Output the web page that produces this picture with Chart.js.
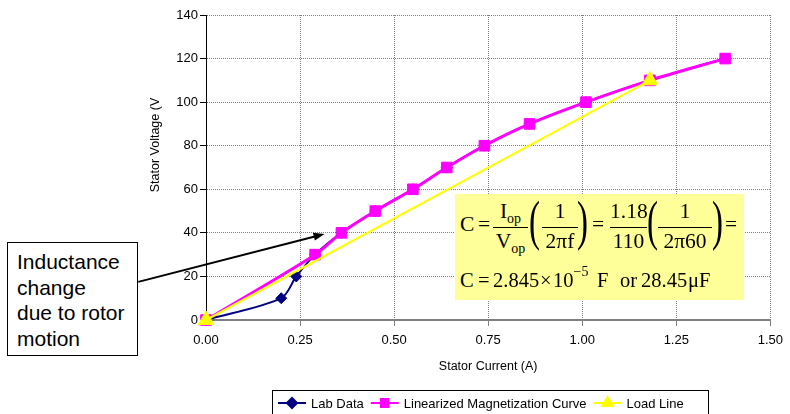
<!DOCTYPE html>
<html>
<head>
<meta charset="utf-8">
<script src="https://cdn.jsdelivr.net/npm/chart.js@4.4.1/dist/chart.umd.min.js"></script>
<style>
  html, body { margin: 0; padding: 0; background: #fff; }
  #wrap { position: relative; width: 790px; height: 414px; overflow: hidden; }
  #chart { position: absolute; left: 0; top: 0; }
  .note {
    position: absolute; left: 7px; top: 242px; width: 131px; height: 114px;
    box-sizing: border-box; border: 1px solid #000; background: #fff;
    font: 21px "Liberation Sans", Arial, sans-serif; line-height: 25.5px;
    padding: 6px 0 0 9px; color: #000; white-space: nowrap;
  }
  /* formula box, Times-like serif, pieces placed one by one */
  .eq {
    position: absolute; left: 455px; top: 194px; width: 289px; height: 106px;
    background: #ffff99; font-family: "Liberation Serif", "Times New Roman", serif;
    font-size: 21.5px; line-height: 1; color: #000;
  }
  .eq div { position: absolute; white-space: nowrap; }
  .eq .c { text-align: center; }
  .eq .bar { height: 1px; background: #000; top: 33px; }
  .eq .par { font-size: 55px; transform: scaleX(0.6); transform-origin: 0 0; top: -1px; }
  .eq .r2 { font-size: 20.5px; top: 76px; }
  .eq sub { font-size: 14px; vertical-align: -5px; line-height: 0; }
  .eq sup { font-size: 14px; vertical-align: 11px; line-height: 0; }
</style>
</head>
<body>
<div id="wrap">
  <canvas id="chart" width="790" height="414"></canvas>
  <div class="note">Inductance<br>change<br>due to rotor<br>motion</div>
  <div class="eq">
    <div style="left:5px;top:20px">C</div>
    <div style="left:23px;top:20px">=</div>
    <div class="c" style="left:38px;width:35px;top:7px">I<sub>op</sub></div>
    <div class="bar" style="left:38px;width:35px"></div>
    <div class="c" style="left:38px;width:35px;top:37px">V<sub>op</sub></div>
    <div class="par" style="left:74px">(</div>
    <div class="c" style="left:87px;width:36px;top:7px">1</div>
    <div class="bar" style="left:87px;width:36px"></div>
    <div class="c" style="left:87px;width:36px;top:37px">2πf</div>
    <div class="par" style="left:122px">)</div>
    <div style="left:137px;top:20px">=</div>
    <div class="c" style="left:155px;width:37px;top:7px">1.18</div>
    <div class="bar" style="left:155px;width:37px"></div>
    <div class="c" style="left:155px;width:37px;top:37px">110</div>
    <div class="par" style="left:192px">(</div>
    <div class="c" style="left:203px;width:54px;top:7px">1</div>
    <div class="bar" style="left:203px;width:54px"></div>
    <div class="c" style="left:203px;width:54px;top:37px">2π60</div>
    <div class="par" style="left:257px">)</div>
    <div style="left:270px;top:20px">=</div>

    <div class="r2" style="left:5px">C</div>
    <div class="r2" style="left:23px">=</div>
    <div class="r2" style="left:38px">2.845</div>
    <div class="r2" style="left:85px">×</div>
    <div class="r2" style="left:98px">10<sup>−5</sup></div>
    <div class="r2" style="left:142px">F</div>
    <div class="r2" style="left:165px">or</div>
    <div class="r2" style="left:186px">28.45</div>
    <div class="r2" style="left:233px">μF</div>
  </div>
</div>
<script>
  // values
  const labCurrent = [0, 0.20, 0.24, 0.29, 0.36, 0.45, 0.55, 0.64, 0.74, 0.86, 1.01, 1.18, 1.38];
  const labVoltage = [0, 10, 20, 30, 40, 50, 60, 70, 80, 90, 100, 110, 120];
  const magCurrent = [0, 0.29, 0.36, 0.45, 0.55, 0.64, 0.74, 0.86, 1.01, 1.18, 1.38];
  const magVoltage = [0, 30, 40, 50, 60, 70, 80, 90, 100, 110, 120];
  const loadCurrent = [0, 1.18];
  const loadVoltage = [0, 110];

  const xTicks = [0, 0.25, 0.5, 0.75, 1.0, 1.25, 1.5];
  const yTicks = [0, 20, 40, 60, 80, 100, 120, 140];

  // arrow of the note, in data units (tail sits left of the axis, on the note box)
  const arrowTail = [-0.18, 17.5];
  const arrowTip = [0.315, 39.5];

  const FONT = '"Liberation Sans", Arial, sans-serif';
  const pts = (xs, ys) => xs.map((x, i) => ({ x, y: ys[i] }));

  const extras = {
    id: 'extras',
    afterDraw(chart) {
      const { ctx, scales: { x, y } } = chart;

      // y title sits above the axis middle in the original, so place it by hand
      ctx.save();
      ctx.translate(155.5, 145);
      ctx.rotate(-Math.PI / 2);
      ctx.font = '12.5px ' + FONT;
      ctx.fillStyle = '#000';
      ctx.textAlign = 'center';
      ctx.textBaseline = 'middle';
      ctx.fillText('Stator Voltage (V', 0, 0);
      ctx.restore();

      // arrow
      const x0 = x.getPixelForValue(arrowTail[0]), y0 = y.getPixelForValue(arrowTail[1]);
      const x1 = x.getPixelForValue(arrowTip[0]), y1 = y.getPixelForValue(arrowTip[1]);
      const a = Math.atan2(y1 - y0, x1 - x0);
      ctx.save();
      ctx.strokeStyle = '#000';
      ctx.fillStyle = '#000';
      ctx.lineWidth = 2;
      ctx.beginPath();
      ctx.moveTo(x0, y0);
      ctx.lineTo(x1 - 8 * Math.cos(a), y1 - 8 * Math.sin(a));
      ctx.stroke();
      ctx.beginPath();
      ctx.moveTo(x1, y1);
      ctx.lineTo(x1 - 11 * Math.cos(a) + 4 * Math.sin(a), y1 - 11 * Math.sin(a) - 4 * Math.cos(a));
      ctx.lineTo(x1 - 11 * Math.cos(a) - 4 * Math.sin(a), y1 - 11 * Math.sin(a) + 4 * Math.cos(a));
      ctx.closePath();
      ctx.fill();

      // legend box, bottom edge runs off the picture like the original
      ctx.lineWidth = 1;
      ctx.strokeRect(272.5, 390.5, 436, 30);
      ctx.font = '13px ' + FONT;
      ctx.textBaseline = 'middle';
      let lx = 278;
      const ly = 403;
      chart.data.datasets.forEach((ds) => {
        ctx.strokeStyle = ds.borderColor;
        ctx.lineWidth = 2;
        ctx.beginPath();
        ctx.moveTo(lx, ly);
        ctx.lineTo(lx + 28, ly);
        ctx.stroke();
        ctx.fillStyle = ds.backgroundColor;
        Chart.helpers.drawPoint(ctx, { pointStyle: ds.pointStyle, radius: ds.legendRadius, rotation: 0, borderWidth: 1 }, lx + 14, ly);
        ctx.fill();
        ctx.fillStyle = '#000';
        ctx.fillText(ds.label, lx + 33, ly + 1);
        lx += 33 + ctx.measureText(ds.label).width + 7;
      });
      ctx.restore();
    }
  };

  new Chart(document.getElementById('chart'), {
    type: 'scatter',
    data: {
      datasets: [
        {
          label: 'Lab Data',
          data: pts(labCurrent, labVoltage),
          showLine: true,
          borderColor: '#000080',
          backgroundColor: '#000080',
          borderWidth: 2,
          pointStyle: 'rectRot',
          pointRadius: 5.5,
          pointBorderWidth: 1,
          legendRadius: 5,
          tension: 0.3,
          clip: false,
          order: 3,
        },
        {
          label: 'Linearized Magnetization Curve',
          data: pts(magCurrent, magVoltage),
          showLine: true,
          borderColor: '#ff00ff',
          backgroundColor: '#ff00ff',
          borderWidth: 3,
          pointStyle: 'rect',
          pointRadius: 7.5,
          pointBorderWidth: 1,
          legendRadius: 5.5,
          tension: 0.3,
          clip: false,
          order: 2,
        },
        {
          label: 'Load Line',
          data: pts(loadCurrent, loadVoltage),
          showLine: true,
          borderColor: '#ffff00',
          backgroundColor: '#ffff00',
          borderWidth: 2,
          pointStyle: 'triangle',
          pointRadius: 9,
          pointBorderWidth: 1,
          legendRadius: 6,
          clip: false,
          order: 1,
        },
      ],
    },
    options: {
      responsive: false,
      animation: false,
      events: [],
      layout: { padding: { left: 144, top: 15, right: 13, bottom: 36 } },
      plugins: { legend: { display: false }, tooltip: { enabled: false } },
      scales: {
        x: {
          type: 'linear',
          min: 0,
          max: 1.5,
          afterBuildTicks: (s) => { s.ticks = xTicks.map((v) => ({ value: v })); },
          afterFit: (s) => { s.height = 58; },
          ticks: { color: '#000', font: { family: FONT, size: 13 }, padding: 7, callback: (v) => v.toFixed(2) },
          grid: { color: '#808080', tickColor: '#808080', tickLength: 6 },
          border: { color: '#808080', width: 2, dash: [1, 1] },
          title: { display: true, text: 'Stator Current (A)', color: '#000', font: { family: FONT, size: 12.5 }, padding: { top: 4, bottom: 4 } },
        },
        y: {
          type: 'linear',
          min: 0,
          max: 140,
          afterBuildTicks: (s) => { s.ticks = yTicks.map((v) => ({ value: v })); },
          afterFit: (s) => { s.width = 62; },
          ticks: { color: '#000', font: { family: FONT, size: 13 }, padding: 2 },
          grid: { color: '#808080', tickColor: '#000', tickLength: 6 },
          border: { color: '#000', width: 1, dash: [1, 1] },
          title: { display: false },
        },
      },
    },
    plugins: [extras],
  });
</script>
</body>
</html>
